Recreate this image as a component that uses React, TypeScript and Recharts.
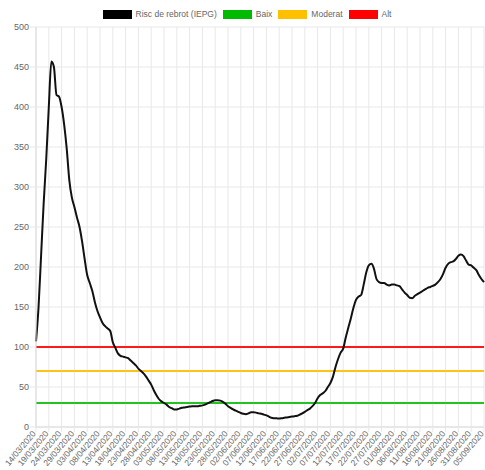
import React from 'react';
import { LineChart, Line, XAxis, YAxis, CartesianGrid, Legend } from 'recharts';

// Daily IEPG values from 14/03/2020 to 05/09/2020
const iepgValues: number[] = [
  107, 150, 215, 280, 335, 400, 457, 450, 415, 413,
  400, 378, 348, 309, 287, 275, 262, 250, 232, 210,
  190, 180, 170, 156, 145, 137, 130, 126, 123, 120,
  106, 99, 92, 89, 88, 87, 86, 83, 80, 77,
  73, 70, 67, 63, 58, 53, 46, 40, 35, 32,
  30, 28, 25, 23.5, 22, 22, 23, 24, 24.5, 25,
  25.5, 26, 26, 26, 26.5, 27, 28, 29.5, 31, 32.5,
  33.5, 33.5, 33, 31.5, 29, 26, 24, 22, 20.5, 19,
  17.5, 16.5, 16, 17, 18.5, 18.5, 18, 17, 16.5, 15.5,
  14.5, 13, 11.5, 11, 10.8, 10.6, 11, 11.5, 12, 12.5,
  13, 13.5, 14, 15.5, 17, 19, 21, 23, 26, 30,
  36, 40, 42, 45, 50, 55, 63, 75, 85, 93,
  98, 112, 124, 136, 149, 159, 163, 165, 178, 193,
  202, 204, 198, 185, 181, 180, 180, 178, 177, 178,
  178, 177, 176, 172, 168, 165, 161.5, 161, 164, 166,
  168, 170, 172, 174, 175, 176.5, 178, 181, 185, 191,
  199, 204, 206, 207, 210, 214, 215.5, 213.5, 208, 203,
  202, 199, 196, 190, 185, 181,
];

const tickLabels: string[] = [
  '14/03/2020', '19/03/2020', '24/03/2020', '29/03/2020', '03/04/2020', '08/04/2020',
  '13/04/2020', '18/04/2020', '23/04/2020', '28/04/2020', '03/05/2020', '08/05/2020',
  '13/05/2020', '18/05/2020', '23/05/2020', '28/05/2020', '02/06/2020', '07/06/2020',
  '12/06/2020', '17/06/2020', '22/06/2020', '27/06/2020', '02/07/2020', '07/07/2020',
  '12/07/2020', '17/07/2020', '22/07/2020', '27/07/2020', '01/08/2020', '06/08/2020',
  '11/08/2020', '16/08/2020', '21/08/2020', '26/08/2020', '31/08/2020', '05/09/2020',
];

const yTicks: number[] = [0, 50, 100, 150, 200, 250, 300, 350, 400, 450, 500];

const baixLevel = 30;
const moderatLevel = 70;
const altLevel = 100;

const pad = (n: number) => (n < 10 ? '0' + n : '' + n);
const dates: string[] = iepgValues.map((_, i) => {
  const d = new Date(Date.UTC(2020, 2, 14 + i));
  return `${pad(d.getUTCDate())}/${pad(d.getUTCMonth() + 1)}/${d.getUTCFullYear()}`;
});

const data = dates.map((date, i) => ({
  date,
  iepg: iepgValues[i],
  baix: baixLevel,
  moderat: moderatLevel,
  alt: altLevel,
}));

const legendItems = [
  { label: 'Risc de rebrot (IEPG)', color: '#000000' },
  { label: 'Baix', color: '#00bb00' },
  { label: 'Moderat', color: '#ffc000' },
  { label: 'Alt', color: '#ff0000' },
];

const FONT = '"Liberation Sans", Arial, Helvetica, sans-serif';

const LegendContent = () => (
  <div
    style={{
      height: 27,
      display: 'flex',
      justifyContent: 'center',
      alignItems: 'flex-start',
      paddingTop: 10,
      paddingLeft: 10,
      boxSizing: 'border-box',
      fontFamily: FONT,
      fontSize: 8.5,
      color: '#666',
    }}
  >
    {legendItems.map((it, idx) => (
      <div key={it.label} style={{ display: 'flex', alignItems: 'center', marginLeft: idx === 0 ? 0 : 6 }}>
        <span style={{ display: 'inline-block', width: 29, height: 9, background: it.color, marginRight: 4 }} />
        <span style={{ lineHeight: '9px' }}>{it.label}</span>
      </div>
    ))}
  </div>
);

const XTick = (props: any) => {
  const { x, y, payload } = props;
  return (
    <g transform={`translate(${x - 2},${y})`}>
      <text
        x={0}
        y={0}
        dy={3}
        textAnchor="end"
        transform="rotate(-50)"
        fontSize={8.5}
        fill="#666"
        fontFamily={FONT}
      >
        {payload.value}
      </text>
    </g>
  );
};

export default function App() {
  return (
    <div style={{ position: 'absolute', left: 0, top: 0 }}>
      <LineChart width={485} height={470} data={data} margin={{ top: 0, right: 1, bottom: 0, left: 0 }}>
        <Legend verticalAlign="top" align="center" content={<LegendContent />} />
        <CartesianGrid stroke="#e8e8e8" strokeWidth={1} />
        <XAxis
          dataKey="date"
          ticks={tickLabels}
          interval={0}
          height={43}
          tick={<XTick />}
          tickSize={5}
          tickMargin={0}
          stroke="#dcdcdc"
          tickLine={{ stroke: '#e8e8e8' }}
        />
        <YAxis
          domain={[0, 500]}
          ticks={yTicks}
          width={36}
          tickSize={6}
          tickMargin={1}
          stroke="#dcdcdc"
          tickLine={{ stroke: '#e8e8e8' }}
          tick={{ fontSize: 9, fill: '#666', fontFamily: FONT }}
          interval={0}
        />
        <Line type="linear" dataKey="baix" stroke="#22c322" strokeWidth={2} dot={false} isAnimationActive={false} />
        <Line type="linear" dataKey="moderat" stroke="#ffc21a" strokeWidth={2} dot={false} isAnimationActive={false} />
        <Line type="linear" dataKey="alt" stroke="#ff1a1a" strokeWidth={2} dot={false} isAnimationActive={false} />
        <Line type="monotone" dataKey="iepg" stroke="#111" strokeWidth={2} dot={false} isAnimationActive={false} />
      </LineChart>
    </div>
  );
}
